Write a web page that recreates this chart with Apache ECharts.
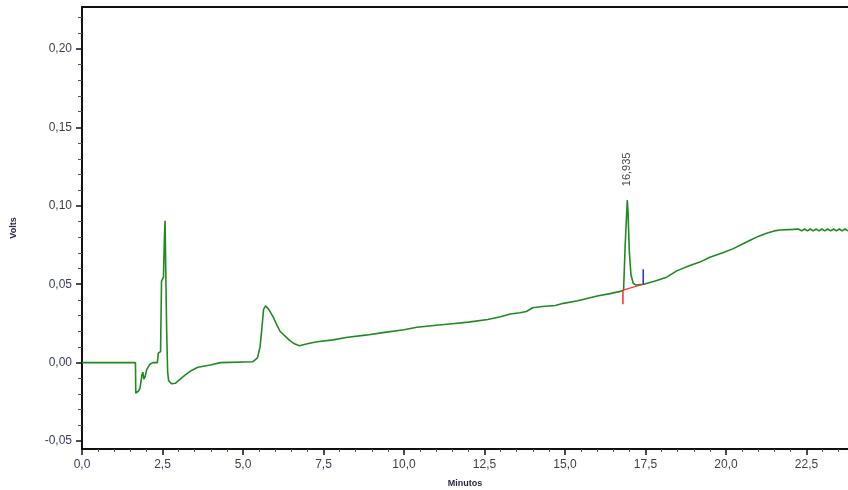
<!DOCTYPE html>
<html>
<head>
<meta charset="utf-8">
<script src="https://cdn.jsdelivr.net/npm/echarts@6/dist/echarts.min.js"></script>
<style>
  html, body { margin: 0; padding: 0; background: #ffffff; }
  #chart { width: 848px; height: 490px; }
</style>
</head>
<body>
<div id="chart"></div>
<script>
// Chromatogram trace: [minutes, volts]
const trace = [
  [0, 0], [1.66, 0], [1.67, -0.0195], [1.72, -0.0200], [1.76, -0.0180], [1.80, -0.0165],
  [1.86, -0.0080], [1.89, -0.0060], [1.92, -0.0105], [1.96, -0.0090], [2.01, -0.0045],
  [2.06, -0.0040], [2.11, -0.0010], [2.20, 0.0000], [2.34, 0.0000], [2.37, 0.0060],
  [2.44, 0.0070], [2.47, 0.0520], [2.53, 0.0545], [2.56, 0.0800], [2.58, 0.0905],
  [2.60, 0.0600], [2.63, 0.0200], [2.66, -0.0060], [2.69, -0.0115], [2.78, -0.0135],
  [2.90, -0.0132], [3.05, -0.0105], [3.20, -0.0080], [3.40, -0.0050], [3.60, -0.0030],
  [3.98, -0.0015], [4.30, 0.0000], [5.30, 0.0005], [5.45, 0.0030], [5.53, 0.0100],
  [5.58, 0.0205], [5.64, 0.0340], [5.70, 0.0362], [5.80, 0.0340], [5.94, 0.0290],
  [6.05, 0.0240], [6.15, 0.0200], [6.30, 0.0170], [6.46, 0.0140], [6.60, 0.0120],
  [6.75, 0.0108], [7.00, 0.0120], [7.30, 0.0133], [7.80, 0.0145], [8.20, 0.0160],
  [8.80, 0.0175], [9.40, 0.0193], [10.0, 0.0210], [10.4, 0.0225], [11.0, 0.0238],
  [11.5, 0.0248], [12.0, 0.0258], [12.6, 0.0275], [13.0, 0.0292], [13.3, 0.0310],
  [13.6, 0.0318], [13.8, 0.0326], [14.0, 0.0350], [14.3, 0.0358], [14.7, 0.0364],
  [14.95, 0.0378], [15.4, 0.0395], [16.0, 0.0425], [16.4, 0.0440], [16.75, 0.0456],
  [16.82, 0.0462], [16.87, 0.0750], [16.935, 0.1036], [16.96, 0.0950], [17.00, 0.0700],
  [17.05, 0.0560], [17.12, 0.0505], [17.20, 0.0495], [17.45, 0.0500], [17.80, 0.0520],
  [18.16, 0.0545], [18.47, 0.0585], [18.88, 0.0620], [19.19, 0.0641], [19.50, 0.0672],
  [19.90, 0.0700], [20.23, 0.0727], [20.50, 0.0755], [20.75, 0.0780], [21.00, 0.0805],
  [21.26, 0.0825], [21.50, 0.0840], [21.68, 0.0846], [22.09, 0.0850], [22.25, 0.0852],
  [22.27, 0.0840], [22.35, 0.0840], [22.37, 0.0852], [22.44, 0.0852], [22.46, 0.0840],
  [22.53, 0.0840], [22.55, 0.0852], [22.62, 0.0852], [22.64, 0.0840], [22.71, 0.0840],
  [22.73, 0.0852], [22.80, 0.0852], [22.82, 0.0840], [22.89, 0.0840], [22.91, 0.0852],
  [22.98, 0.0852], [23.00, 0.0840], [23.07, 0.0840], [23.09, 0.0852], [23.16, 0.0852],
  [23.18, 0.0840], [23.25, 0.0840], [23.27, 0.0852], [23.34, 0.0852], [23.36, 0.0840],
  [23.43, 0.0840], [23.45, 0.0852], [23.52, 0.0852], [23.54, 0.0840], [23.61, 0.0840],
  [23.63, 0.0852], [23.70, 0.0852], [23.72, 0.0840], [23.79, 0.0840]
];

// Integrated peak: apex, baseline segment and start/end markers
const peakApex = [[16.935, 0.1036]];
const peakBaseline = [[16.80, 0.0462], [17.43, 0.0500]];
const peakStartMark = [[16.80, 0.0462], [16.80, 0.0372]];
const peakEndMark = [[17.43, 0.0500], [17.43, 0.0595]];

// Axis ranges and tick positions
const xRange = [0, 23.79];
const yRange = [-0.0551, 0.2268];
const xMajorTicks = [0, 2.5, 5, 7.5, 10, 12.5, 15, 17.5, 20, 22.5];
const xMinorTicks = [0.5, 1, 1.5, 2, 3, 3.5, 4, 4.5, 5.5, 6, 6.5, 7, 8, 8.5, 9, 9.5,
  10.5, 11, 11.5, 12, 13, 13.5, 14, 14.5, 15.5, 16, 16.5, 17, 18, 18.5, 19, 19.5,
  20.5, 21, 21.5, 22, 23, 23.5];
const yMajorTicks = [-0.05, 0, 0.05, 0.10, 0.15, 0.20];
const yMinorTicks = [-0.04, -0.03, -0.02, -0.01, 0.01, 0.02, 0.03, 0.04, 0.06, 0.07,
  0.08, 0.09, 0.11, 0.12, 0.13, 0.14, 0.16, 0.17, 0.18, 0.19, 0.21, 0.22];

const FONT = 'Liberation Sans, Arial, sans-serif';
const AXIS_COLOR = '#111111';
const LABEL_COLOR = '#3a3f55';
const TRACE_COLOR = '#1f8b1f';

const chart = echarts.init(document.getElementById('chart'), null, { renderer: 'canvas' });

function plainAxis(extra) {
  return Object.assign({
    type: 'value',
    splitLine: { show: false },
    axisLine: { show: false, onZero: false },
    axisTick: { show: false },
    axisLabel: { show: false }
  }, extra);
}

const frameLine = { show: true, onZero: false, lineStyle: { color: AXIS_COLOR, width: 2 } };

chart.setOption({
  animation: false,
  backgroundColor: '#ffffff',
  grid: { left: 82, right: 0, top: 7, bottom: 41, containLabel: false, outerBoundsMode: 'none' },
  xAxis: [
    plainAxis({
      position: 'bottom', min: xRange[0], max: xRange[1],
      name: 'Minutos', nameLocation: 'middle', nameGap: 30,
      nameTextStyle: { fontFamily: FONT, fontSize: 9, color: '#2a2a44', fontWeight: 'bold' },
      axisLine: frameLine,
      axisTick: { show: true, length: 6, customValues: xMajorTicks, lineStyle: { color: AXIS_COLOR, width: 1.5 } },
      axisLabel: {
        show: true, customValues: xMajorTicks, margin: 10,
        fontFamily: FONT, fontSize: 12, color: LABEL_COLOR,
        formatter: v => v.toFixed(1).replace('.', ',')
      }
    }),
    plainAxis({
      position: 'bottom', min: xRange[0], max: xRange[1],
      axisTick: { show: true, length: 3, customValues: xMinorTicks, lineStyle: { color: '#555555', width: 1 } }
    }),
    plainAxis({
      position: 'top', min: xRange[0], max: xRange[1],
      axisLine: frameLine
    })
  ],
  yAxis: [
    plainAxis({
      position: 'left', min: yRange[0], max: yRange[1],
      name: 'Volts', nameLocation: 'middle', nameGap: 64, nameRotate: 90,
      nameTextStyle: { fontFamily: FONT, fontSize: 9, color: '#2a2a44', fontWeight: 'bold' },
      axisLine: frameLine,
      axisTick: { show: true, length: 6, customValues: yMajorTicks, lineStyle: { color: AXIS_COLOR, width: 1.5 } },
      axisLabel: {
        show: true, customValues: yMajorTicks, margin: 10,
        fontFamily: FONT, fontSize: 12, color: LABEL_COLOR,
        formatter: v => v.toFixed(2).replace('.', ',')
      }
    }),
    plainAxis({
      position: 'left', min: yRange[0], max: yRange[1],
      axisTick: { show: true, length: 4, customValues: yMinorTicks, lineStyle: { color: '#555555', width: 1 } }
    })
  ],
  series: [
    {
      type: 'line', data: trace, showSymbol: false, smooth: false,
      lineStyle: { color: TRACE_COLOR, width: 1.6 }, z: 3
    },
    {
      type: 'line', data: peakBaseline, showSymbol: false,
      lineStyle: { color: '#ff2a2a', width: 1.2 }, z: 4
    },
    {
      type: 'line', data: peakStartMark, showSymbol: false,
      lineStyle: { color: '#ff2a2a', width: 1.5 }, z: 4
    },
    {
      type: 'line', data: peakEndMark, showSymbol: false,
      lineStyle: { color: '#1f2fdd', width: 1.5 }, z: 4
    },
    {
      type: 'scatter', data: peakApex, symbolSize: 0,
      label: {
        show: true, position: 'top', distance: 14, rotate: 90,
        align: 'left', verticalAlign: 'middle',
        fontFamily: FONT, fontSize: 11, color: '#111111',
        formatter: p => p.value[0].toFixed(3).replace('.', ',')
      },
      z: 5
    }
  ]
});
</script>
</body>
</html>
